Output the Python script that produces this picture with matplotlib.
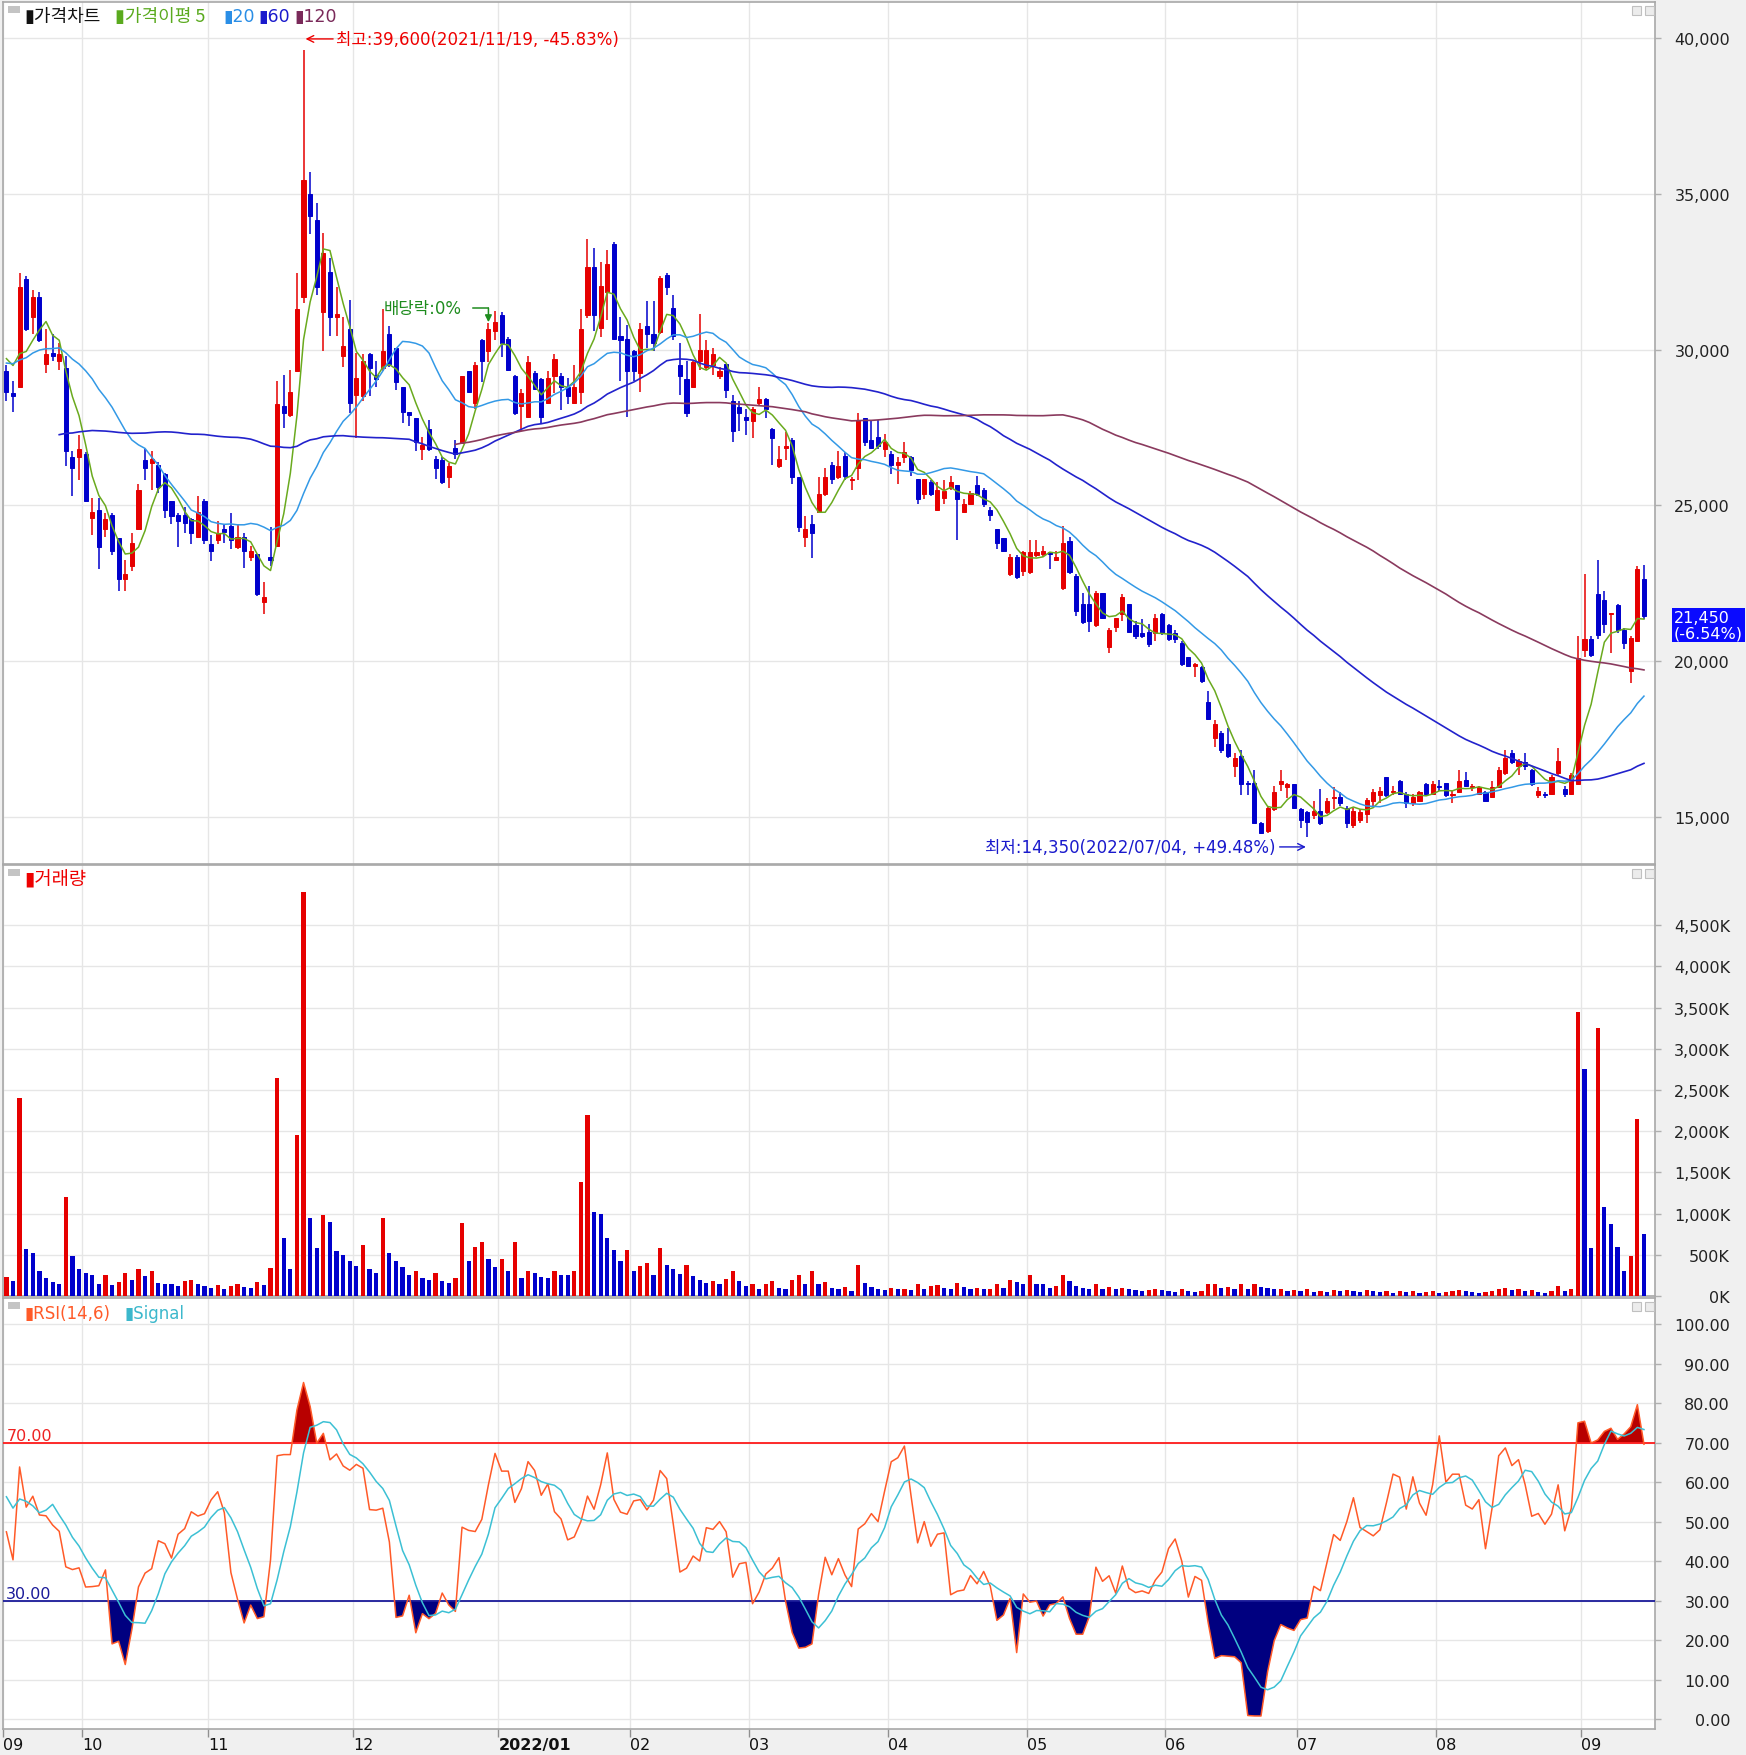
import matplotlib
matplotlib.use("Agg")
import matplotlib.pyplot as plt
import matplotlib.transforms as mtransforms
from matplotlib.patches import Rectangle
import numpy as np
import pandas as pd

KR = ["Noto Sans CJK KR", "DejaVu Sans"]
LAT = ["DejaVu Sans", "Noto Sans CJK KR"]
plt.rcParams["font.family"] = ["DejaVu Sans"]

# closes before the visible window (only feed the moving averages / RSI warm-up)
pre_close = [24200, 25500, 24600, 23900, 23500, 24300, 25000, 24700, 24100, 23800,
             24500, 25300, 25900, 25400, 24800, 24400, 25000, 25600, 26100, 25500,
             24900, 24500, 25100, 25800, 25300, 24700, 24300, 24900, 25600, 26200,
             27000, 27800, 28900, 29600, 29200, 28700, 28400, 29000, 29700, 29400,
             29900, 30300, 29900, 29500, 30000, 30400, 29900, 29600, 30100, 30300,
             29900]

opens = [29300, 28600, 28800, 32250, 31050, 31700, 29550, 29900, 29650, 29400,
         26550, 26550, 26650, 24600, 24850, 24250, 24700, 23950, 22650, 23050,
         24250, 26450, 26350, 26300, 26000, 25150, 24700, 24700, 24550, 24000,
         25150, 23750, 23900, 24250, 24350, 23650, 24000, 23350, 23450, 21900,
         23350, 23700, 28200, 27900, 29300, 31700, 35000, 34150, 31200, 32500,
         31050, 29800, 30650, 28550, 28500, 29850, 29200, 29400, 30500, 30050,
         28800, 28000, 27800, 26800, 27450, 26500, 26450, 25900, 26850, 27000,
         29300, 28300, 30300, 29950, 30600, 31100, 30350, 29150, 28200, 27850,
         29250, 29050, 28300, 29150, 29150, 28800, 28300, 28650, 31100, 32650,
         30700, 31850, 33400, 30450, 30350, 29950, 29250, 30750, 30500, 30550,
         32400, 31350, 29500, 29050, 28800, 29650, 29450, 29500, 29150, 29550,
         28350, 28150, 27850, 27700, 28300, 28400, 27450, 26250, 26850, 27100,
         25900, 24000, 24400, 24800, 25350, 26300, 25900, 26600, 25800, 26200,
         27800, 27100, 27200, 26800, 26650, 26300, 26550, 26550, 25850, 25350,
         25750, 24850, 25250, 25550, 25650, 24800, 25050, 25650, 25500, 24850,
         24250, 23950, 22800, 23350, 22900, 22850, 23400, 23450, 23500, 23250,
         22350, 23850, 22750, 21850, 21850, 21150, 22200, 20450, 21100, 21500,
         21850, 21150, 20900, 20950, 20900, 21500, 21150, 20900, 20600, 20150,
         19850, 19800, 18700, 17550, 17700, 17350, 16650, 16950, 16100, 16100,
         14800, 14550, 15250, 16050, 15950, 16050, 15250, 15150, 15050, 15200,
         15150, 15600, 15650, 15300, 14750, 14900, 15100, 15500, 15700, 16300,
         15800, 16150, 15750, 15450, 15500, 16050, 15750, 16000, 16100, 15700,
         15800, 16200, 15950, 15750, 15800, 15650, 15950, 16400, 17050, 16650,
         16750, 16500, 15700, 15750, 15750, 16400, 15900, 15750, 16050, 20350,
         20700, 22150, 21950, 21500, 21800, 21000, 19700, 20650, 22650]

highs = [29500, 29000, 32450, 32350, 31900, 31850, 30650, 30500, 30200, 29800,
         26750, 27250, 26700, 25250, 25250, 24750, 24750, 23950, 23250, 24100,
         25700, 26800, 26750, 26400, 26050, 25150, 24750, 24950, 24600, 25300,
         25200, 24050, 24500, 24400, 24750, 24400, 24100, 23700, 23450, 22550,
         24300, 29000, 29200, 29350, 32450, 39600, 35700, 34700, 33750, 32950,
         32000, 31050, 31600, 29900, 29850, 29900, 29650, 31300, 30750, 30050,
         28800, 28000, 27800, 27200, 27750, 26600, 26550, 26350, 27100, 29150,
         29300, 29600, 30350, 30850, 31250, 31200, 30400, 29200, 28750, 29800,
         29300, 29100, 29300, 29850, 29250, 29100, 29500, 31300, 33550, 33250,
         32800, 33200, 33450, 31050, 30800, 30000, 30850, 31550, 31550, 32350,
         32450, 31750, 30200, 29650, 29650, 31150, 30300, 30050, 29450, 29550,
         28550, 28350, 28100, 28150, 28800, 28450, 27500, 26900, 27350, 27150,
         25900, 24650, 24700, 25900, 26200, 26400, 26750, 26700, 25900, 27950,
         27800, 27750, 27750, 27300, 26750, 26550, 27050, 26600, 25850, 25850,
         25800, 25750, 25800, 25950, 25650, 25200, 25450, 25950, 25550, 24950,
         24250, 23950, 23450, 23400, 23550, 23900, 23900, 23700, 23500, 23550,
         24350, 24000, 22800, 22200, 22400, 22250, 22200, 21050, 21400, 22150,
         21850, 21300, 21350, 21200, 21500, 21550, 21200, 21000, 20650, 20150,
         19950, 19850, 19050, 18100, 17750, 17850, 17050, 17150, 16150, 16500,
         14850, 15350, 16000, 16500, 16100, 16050, 15300, 15200, 15500, 15900,
         15600, 15950, 15800, 15350, 15300, 15250, 15600, 15900, 15950, 16300,
         16000, 16200, 15800, 15750, 15850, 16100, 16150, 16200, 16100, 15850,
         16500, 16450, 16050, 16000, 15850, 16150, 16600, 17150, 17150, 16850,
         17050, 16550, 15950, 15800, 16350, 17200, 16000, 16400, 20800, 22800,
         20800, 23250, 22250, 21550, 21850, 21050, 20800, 23050, 23100]

lows = [28350, 28000, 28800, 30600, 30500, 30250, 29250, 29650, 29350, 26250,
        25300, 25800, 25150, 24050, 22950, 24000, 23400, 22250, 22250, 22900,
        24200, 25800, 25500, 25400, 24600, 24400, 23650, 24100, 23750, 23950,
        23750, 23200, 23750, 23800, 23600, 23600, 23000, 23200, 22100, 21500,
        23050, 23700, 27500, 27850, 29300, 31500, 33700, 31750, 29950, 30450,
        30450, 29450, 27950, 27150, 28350, 28500, 28800, 29300, 29450, 28700,
        27650, 27550, 26750, 26450, 26750, 25850, 25700, 25550, 26500, 27000,
        28600, 28100, 28950, 29600, 30300, 29750, 29300, 27900, 27400, 27800,
        28700, 27600, 28250, 28600, 28050, 28250, 28250, 28250, 31000, 30600,
        30400, 30950, 30300, 29000, 27850, 29000, 28650, 30050, 29950, 30500,
        31750, 30300, 28550, 27850, 28800, 29350, 29350, 29200, 29050, 28450,
        27050, 27400, 27250, 27150, 28200, 27800, 26300, 26200, 26450, 25700,
        24150, 23650, 23300, 24750, 25300, 25700, 25850, 25800, 25500, 25800,
        26900, 26800, 26800, 26550, 26000, 25700, 26350, 25950, 25050, 25200,
        25300, 24850, 25050, 25500, 23900, 24800, 25000, 25300, 24950, 24500,
        23600, 23500, 22750, 22650, 22750, 22800, 23350, 23350, 22950, 23200,
        22300, 22800, 21450, 21200, 20950, 21100, 21350, 20250, 20950, 21300,
        20950, 20700, 20750, 20450, 20650, 20850, 20650, 20600, 19850, 19800,
        19500, 19300, 18100, 17250, 17050, 16900, 16300, 15700, 15700, 14800,
        14450, 14500, 15200, 15850, 15600, 15250, 14650, 14350, 14950, 14750,
        15100, 15250, 15350, 14650, 14650, 14800, 14800, 15350, 15450, 15650,
        15700, 15700, 15300, 15350, 15500, 15700, 15700, 15850, 15650, 15450,
        15800, 15950, 15850, 15700, 15500, 15600, 15950, 16350, 16700, 16350,
        16500, 16000, 15600, 15600, 15700, 16350, 15650, 15700, 16050, 20150,
        20150, 20700, 20900, 20250, 20900, 20400, 19300, 20650, 21350]

closes = [28650, 28500, 32000, 30650, 31700, 30300, 29850, 29800, 29850, 26750,
          26200, 26800, 25150, 24800, 23650, 24550, 23550, 22650, 22800, 23800,
          25500, 26200, 26500, 25600, 24850, 24650, 24500, 24450, 24100, 24800,
          23900, 23550, 24100, 24150, 23900, 24000, 23550, 23550, 22150, 22050,
          23250, 28250, 27950, 28650, 31300, 35450, 34300, 32000, 33100, 31050,
          31150, 30100, 28300, 29100, 29650, 29400, 29050, 29950, 29550, 28950,
          28000, 27900, 27050, 26950, 26800, 26200, 25750, 26250, 26650, 29150,
          28650, 29500, 29650, 30650, 30900, 30200, 29350, 27950, 28600, 29600,
          28750, 27850, 29100, 29700, 28800, 28500, 28800, 30650, 32650, 31100,
          32050, 32750, 30350, 30300, 29300, 29300, 30650, 30500, 30200, 32300,
          32000, 30450, 29150, 27950, 29600, 30000, 30000, 29850, 29300, 28700,
          27400, 27950, 27750, 28100, 28400, 28100, 27150, 26500, 26900, 25900,
          24300, 24250, 24100, 25350, 25900, 25850, 26250, 25950, 25850, 27750,
          27050, 26850, 26900, 27050, 26300, 26400, 26700, 26150, 25200, 25850,
          25350, 25500, 25450, 25750, 25200, 25050, 25400, 25350, 25050, 24700,
          23800, 23550, 23350, 22700, 23500, 23500, 23500, 23550, 23450, 23350,
          23800, 22850, 21600, 21250, 21300, 22200, 21400, 21000, 21400, 22050,
          20950, 20800, 20800, 20550, 21400, 20900, 20700, 20700, 19900, 19850,
          19900, 19350, 18150, 18000, 17150, 16950, 16900, 16050, 16050, 14800,
          14500, 15300, 15800, 16150, 16050, 15300, 14900, 14850, 15200, 14800,
          15500, 15650, 15450, 14800, 15200, 15150, 15550, 15800, 15850, 15700,
          15850, 15750, 15450, 15650, 15800, 15750, 16050, 15950, 15700, 15750,
          16150, 16000, 16000, 15950, 15500, 15950, 16500, 16900, 16750, 16800,
          16650, 16050, 15850, 15700, 16300, 16800, 15750, 16350, 20100, 20700,
          20200, 20850, 21200, 21550, 21000, 20600, 20750, 22950, 21450]

# volume in thousand shares
volumes = [230, 180, 2400, 570, 520, 300, 220, 170, 150, 1200,
           480, 330, 280, 250, 150, 260, 130, 170, 280, 200,
           330, 240, 300, 160, 150, 140, 120, 180, 200, 140,
           120, 100, 130, 90, 120, 150, 110, 100, 170, 130,
           340, 2650, 700, 330, 1950, 4900, 950, 580, 980, 900,
           550, 500, 420, 360, 620, 330, 280, 950, 520, 430,
           350, 250, 300, 220, 200, 280, 180, 160, 220, 880,
           420, 600, 650, 450, 350, 450, 300, 650, 220, 300,
           280, 230, 220, 300, 260, 250, 300, 1380, 2200, 1020,
           1000, 700, 560, 420, 560, 300, 360, 400, 250, 580,
           380, 330, 270, 380, 240, 200, 160, 180, 140, 210,
           300, 180, 120, 150, 80, 140, 180, 100, 80, 200,
           250, 150, 300, 140, 170, 100, 90, 110, 60, 380,
           160, 110, 80, 70, 100, 80, 90, 70, 140, 90,
           120, 130, 100, 80, 160, 110, 90, 100, 80, 90,
           140, 100, 190, 170, 140, 260, 150, 140, 100, 120,
           260, 180, 120, 100, 90, 140, 90, 110, 80, 100,
           90, 70, 60, 70, 90, 70, 60, 50, 80, 60,
           50, 60, 140, 150, 100, 110, 90, 140, 80, 150,
           110, 100, 80, 90, 60, 70, 60, 80, 50, 60,
           50, 70, 60, 70, 60, 50, 70, 60, 50, 60,
           40, 60, 50, 60, 40, 50, 60, 40, 50, 60,
           70, 60, 50, 40, 50, 60, 80, 100, 70, 90,
           60, 70, 50, 40, 60, 120, 60, 80, 3450, 2750,
           580, 3250, 1080, 870, 600, 300, 480, 2150, 750]

month_start = [1, 13, 32, 54, 76, 96, 114, 135, 156, 177, 197, 218, 240]
month_label = ["09", "10", "11", "12", "2022/01", "02", "03", "04", "05", "06", "07", "08", "09"]

O = np.array(opens, float)
Hh = np.array(highs, float)
L = np.array(lows, float)
C = np.array(closes, float)
V = np.array(volumes, float)
x = np.arange(1, len(C) + 1)

RED = "#e60000"
BLUE = "#0000cc"

allc = pd.Series(pre_close + closes, dtype=float)
npre = len(pre_close)
ma = {p: allc.rolling(p).mean().values[npre:] for p in (5, 20, 60, 120)}

d = allc.diff()
gain = d.clip(lower=0).rolling(14).mean()
loss = (-d.clip(upper=0)).rolling(14).mean()
rsi_all = 100 * gain / (gain + loss)
sig_all = rsi_all.rolling(6).mean()
rsi = rsi_all.values[npre:]
sig = sig_all.values[npre:]

W, Hpx = 1746, 1756
fig = plt.figure(figsize=(W / 100, Hpx / 100), dpi=100, facecolor="#f0f0f0")


def rect(top, bottom):
    return [3 / W, 1 - bottom / Hpx, (1655 - 3) / W, (bottom - top) / Hpx]


ax1 = fig.add_axes(rect(3, 865))
ax2 = fig.add_axes(rect(866, 1297), sharex=ax1)
ax3 = fig.add_axes(rect(1299, 1730), sharex=ax1)


def style(ax, ticks, labels, ylim):
    ax.set_facecolor("white")
    ax.set_ylim(*ylim)
    ax.set_yticks(ticks)
    ax.set_yticklabels(labels)
    ax.yaxis.tick_right()
    ax.tick_params(axis="y", length=4, width=1, color="#b0b0b0", pad=50,
                   labelsize=11.5, labelcolor="#222222")
    for t in ax.get_yticklabels():
        t.set_ha("right")
    ax.set_xticks([m - 0.5 for m in month_start])
    ax.grid(True, color="#e6e6e6", lw=1)
    ax.set_axisbelow(True)
    for s in ax.spines.values():
        s.set_color("#a8a8a8")
        s.set_linewidth(1.2)


pt = list(range(15000, 40001, 5000))
style(ax1, pt, [f"{v:,}" for v in pt], (13492, 41155))
vt = list(range(0, 4501, 500))
style(ax2, vt, [f"{v:,}K" for v in vt], (0, 5231))
rt = list(range(0, 101, 10))
style(ax3, rt, [f"{v:.2f}" for v in rt], (-2.5, 106.6))
ax1.set_xlim(0.485, 250.67)

# candles
col = np.where(C >= O, RED, BLUE)
ax1.vlines(x, L, Hh, color=col, lw=1.1, zorder=3)
ax1.bar(x, np.abs(C - O), bottom=np.minimum(O, C), width=0.62, color=col,
        edgecolor=col, lw=0.7, zorder=4)
ax1.plot(x, ma[5], color="#6aaa1e", lw=1.1, zorder=5)
ax1.plot(x, ma[20], color="#3399e6", lw=1.1, zorder=5)
ax1.plot(x, ma[60], color="#2222cc", lw=1.2, zorder=5)
ax1.plot(x, ma[120], color="#8a3a5e", lw=1.2, zorder=5)

# high / low annotations
ih = int(np.argmax(Hh))
il = int(np.argmin(L))
last = C[-1]
ax1.annotate(f"최고:{Hh[ih]:,.0f}(2021/11/19, {(last / Hh[ih] - 1) * 100:.2f}%)",
             xy=(x[ih] + 0.3, 39970), xytext=(x[ih] + 4.9, 39970),
             ha="left", va="center", color="#ee0000", fontsize=12, family=LAT,
             arrowprops=dict(arrowstyle="->", color="#ee0000", lw=1, shrinkA=0, shrinkB=0))
ax1.annotate(f"최저:{L[il]:,.0f}(2022/07/04, +{(last / L[il] - 1) * 100:.2f}%)",
             xy=(x[il] - 0.2, 14040), xytext=(x[il] - 48.8, 14040),
             ha="left", va="center", color="#1a1acc", fontsize=12, family=LAT,
             arrowprops=dict(arrowstyle="->", color="#1a1acc", lw=1, shrinkA=1, shrinkB=0))

# ex-dividend marker
ixd = 73
green = "#1e8c1e"
ax1.text(x[ixd] - 15.8, 31335, "배당락:0%", ha="left", va="center", color=green,
         fontsize=12, family=LAT)
ax1.plot([x[ixd] - 2.3, x[ixd]], [31335, 31335], color=green, lw=1.1)
ax1.annotate("", xy=(x[ixd], Hh[ixd] + 30), xytext=(x[ixd], 31335),
             arrowprops=dict(arrowstyle="-|>,head_length=0.4,head_width=0.2",
                             color=green, lw=1.1, shrinkA=0, shrinkB=0))

# current price box
tr = mtransforms.offset_copy(mtransforms.blended_transform_factory(ax1.transAxes, ax1.transData),
                             fig=fig, x=0, y=-9, units="dots")
ax1.text(1.0115, last, f"{last:,.0f}\n({(C[-1] / C[-2] - 1) * 100:.2f}%)", transform=tr,
         ha="left", va="center", color="white", fontsize=11.5, linespacing=1.05,
         bbox=dict(boxstyle="square,pad=0.12", fc="#0a0aff", ec="none"), clip_on=False)

# volume bars, coloured by change vs previous day
vcol = [RED] + [RED if V[i] >= V[i - 1] else BLUE for i in range(1, len(V))]
ax2.bar(x, V, width=0.64, color=vcol, zorder=3)

# RSI
ax3.axhline(70, color="#ff1a1a", lw=1.3, zorder=4)
ax3.axhline(30, color="#1a1a99", lw=1.3, zorder=4)
ax3.fill_between(x, rsi, 70, where=rsi >= 70, interpolate=True, color="#b80000", lw=0, zorder=3)
ax3.fill_between(x, rsi, 30, where=rsi <= 30, interpolate=True, color="#000080", lw=0, zorder=3)
ax3.plot(x, rsi, color="#ff5a28", lw=1.1, zorder=5)
ax3.plot(x, sig, color="#3cc0d4", lw=1.1, zorder=5)
ax3.text(0.002, 70, "70.00", transform=ax3.get_yaxis_transform(), color="#ee2222",
         fontsize=11.5, va="bottom", ha="left")
ax3.text(0.002, 30, "30.00", transform=ax3.get_yaxis_transform(), color="#1a1a99",
         fontsize=11.5, va="bottom", ha="left")

# x axis
for ax in (ax1, ax2):
    ax.tick_params(axis="x", length=0, labelbottom=False)
ax3.set_xticklabels(month_label)
ax3.tick_params(axis="x", length=6, width=1, color="#909090", pad=0, labelsize=11.5,
                labelcolor="#111111")
for t in ax3.get_xticklabels():
    t.set_ha("left")
    if "/" in t.get_text():
        t.set_fontweight("bold")


# legends / panel headers
def ftext(px, py, s, c, size=13, fam=KR):
    fig.text(px / W, 1 - py / Hpx, s, color=c, fontsize=size, family=fam, va="center", ha="left")


def header(top):
    fig.patches.append(Rectangle((8 / W, 1 - (top + 11) / Hpx), 12 / W, 7 / Hpx,
                                 transform=fig.transFigure, fc="#c4c4c4", ec="none"))
    for bx in (1632, 1645):
        fig.patches.append(Rectangle((bx / W, 1 - (top + 13) / Hpx), 9 / W, 9 / Hpx,
                                     transform=fig.transFigure, fc="#ececec", ec="#c0c0c0", lw=0.8))


header(3)
header(866)
header(1299)
ftext(24, 17, "▮가격차트", "#111111")
ftext(115, 17, "▮가격이평 5", "#5aaa1e")
ftext(223, 17, "▮20", "#2a8ee6", 12.5, LAT)
ftext(258, 17, "▮60", "#1a1acc", 12.5, LAT)
ftext(294, 17, "▮120", "#7a2a5a", 12.5, LAT)
ftext(24, 880, "▮거래량", "#ee0000", 13.5)
ftext(24, 1314, "▮RSI(14,6)", "#ff5a28", 12, LAT)
ftext(124, 1314, "▮Signal", "#3cb8cc", 12, LAT)

fig.savefig("out.png", dpi=100, facecolor=fig.get_facecolor())
